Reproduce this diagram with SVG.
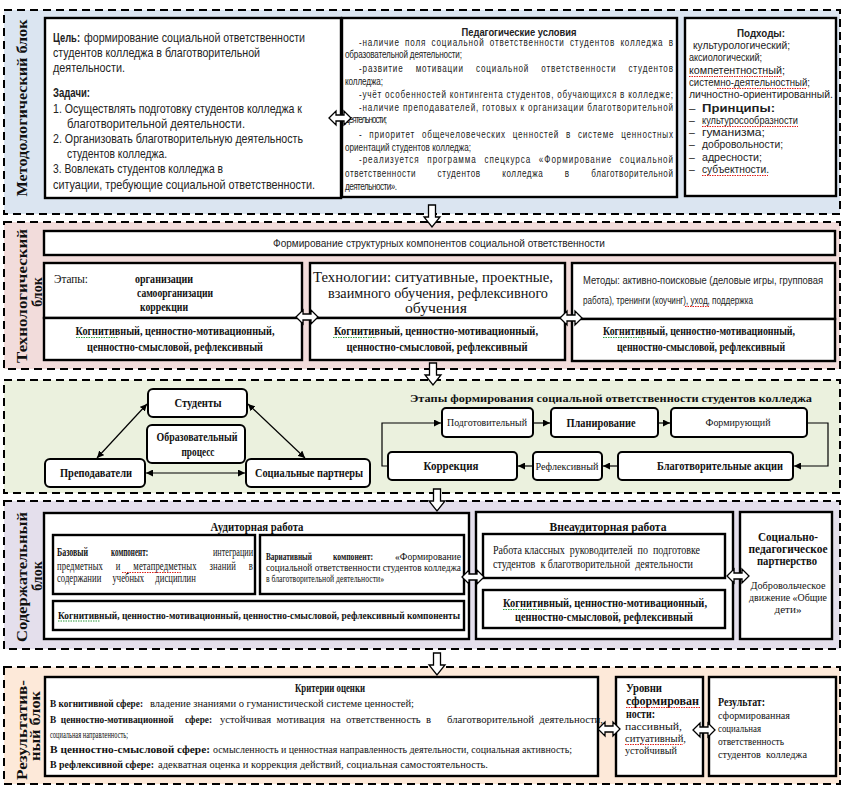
<svg xmlns="http://www.w3.org/2000/svg" width="847" height="797" viewBox="0 0 847 797">
<defs>
<style>
.blk{stroke:#000;stroke-width:2;stroke-dasharray:8 5}
.box{fill:#fff;stroke:#000;stroke-width:2.4}
.node{fill:#fff;stroke:#000;stroke-width:2}
.sa{font-family:"Liberation Sans",Arial,sans-serif;fill:#222}
.se{font-family:"Liberation Serif","Times New Roman",serif;fill:#111}
.b{font-weight:bold}
.m{text-anchor:middle}
.lbl{font-family:"Liberation Serif","Times New Roman",serif;font-weight:bold;font-size:14px;fill:#111;text-anchor:middle}
.ha{fill:#fff;stroke:#000;stroke-width:1.3}
.ln{fill:none;stroke:#000;stroke-width:1.2}
.sp{fill:none;stroke:#e0201a;stroke-width:1;stroke-dasharray:1.5 1}
.gp{fill:none;stroke:#2a9a3a;stroke-width:1;stroke-dasharray:1.5 1}
</style>
<marker id="ah" viewBox="0 0 10 10" refX="10" refY="5" markerWidth="7" markerHeight="7" markerUnits="userSpaceOnUse" orient="auto-start-reverse"><path d="M0,0 L10,5 L0,10 Z" fill="#000"/></marker>
<path id="darr" d="M-3.5,0 H3.5 V12 H8 L0,22 L-8,12 H-3.5 Z"/>
<path id="harr" d="M0,0 L7,-7 V-3 H15 V-7 L22,0 L15,7 V3 H7 V7 Z"/>
</defs>
<rect width="847" height="797" fill="#fff"/>

<!-- Block 1: methodological -->
<g id="block-methodological">
<rect class="blk" x="4" y="10" width="836" height="204" fill="#dbe5f1"/>
<text class="lbl" transform="translate(27,108) rotate(-90)" textLength="177" lengthAdjust="spacingAndGlyphs">Методологический блок</text>
</g>
<g id="goal-tasks">
<rect class="box" x="45" y="18" width="296" height="180"/>
<g class="sa" font-size="13">
<text class="b" x="53" y="42" textLength="27" lengthAdjust="spacingAndGlyphs">Цель:</text>
<text x="84" y="42" textLength="221" lengthAdjust="spacingAndGlyphs">формирование социальной ответственности</text>
<text x="53" y="57" textLength="207" lengthAdjust="spacingAndGlyphs">студентов колледжа в благотворительной</text>
<text x="53" y="72" textLength="72" lengthAdjust="spacingAndGlyphs">деятельности.</text>
<text class="b" x="53" y="97" textLength="37" lengthAdjust="spacingAndGlyphs">Задачи:</text>
<text x="53" y="113" textLength="249" lengthAdjust="spacingAndGlyphs">1. Осуществлять подготовку студентов колледжа к</text>
<text x="67" y="128" textLength="178" lengthAdjust="spacingAndGlyphs">благотворительной деятельности.</text>
<text x="53" y="143" textLength="250" lengthAdjust="spacingAndGlyphs">2. Организовать благотворительную деятельность</text>
<text x="67" y="158" textLength="100" lengthAdjust="spacingAndGlyphs">студентов колледжа.</text>
<text x="53" y="173" textLength="170" lengthAdjust="spacingAndGlyphs">3. Вовлекать студентов колледжа в</text>
<text x="53" y="189" textLength="262" lengthAdjust="spacingAndGlyphs">ситуации, требующие социальной ответственности.</text>
</g>
</g>
<g id="ped-conditions">
<rect class="box" x="342" y="18" width="335" height="179"/>
<g class="sa" font-size="10.8">
<text class="b m" x="519" y="36" font-size="11" textLength="115" lengthAdjust="spacingAndGlyphs">Педагогические условия</text>
<text transform="matrix(0.75 0 0 1 359 0)" y="46" textLength="418.7" lengthAdjust="spacing" word-spacing="3">-наличие поля социальной ответственности  студентов колледжа в</text>
<text transform="matrix(0.75 0 0 1 345 0)" y="58" textLength="156" lengthAdjust="spacing">образовательной деятельности;</text>
<text transform="matrix(0.75 0 0 1 359 0)" y="72" textLength="418.7" lengthAdjust="spacing" word-spacing="12">-развитие мотивации социальной ответственности студентов</text>
<text transform="matrix(0.75 0 0 1 345 0)" y="85" textLength="50.7" lengthAdjust="spacing">колледжа;</text>
<text transform="matrix(0.75 0 0 1 359 0)" y="98" textLength="418.7" lengthAdjust="spacing">-учёт особенностей контингента студентов, обучающихся в колледже;</text>
<text transform="matrix(0.75 0 0 1 359 0)" y="111" textLength="418.7" lengthAdjust="spacing">-наличие преподавателей, готовых к организации благотворительной</text>
<text transform="matrix(0.75 0 0 1 345 0)" y="123" textLength="56" lengthAdjust="spacing">деятельности;</text>
<text transform="matrix(0.75 0 0 1 359 0)" y="138" textLength="418.7" lengthAdjust="spacing" word-spacing="5">- приоритет общечеловеческих ценностей в системе ценностных</text>
<text transform="matrix(0.75 0 0 1 345 0)" y="151" textLength="168" lengthAdjust="spacing">ориентаций студентов колледжа;</text>
<text transform="matrix(0.75 0 0 1 359 0)" y="163" textLength="418.7" lengthAdjust="spacing" word-spacing="6">-реализуется программа спецкурса «Формирование социальной</text>
<text transform="matrix(0.75 0 0 1 345 0)" y="177" textLength="437.3" lengthAdjust="spacing" word-spacing="25">ответственности студентов колледжа в благотворительной</text>
<text transform="matrix(0.75 0 0 1 345 0)" y="190" textLength="69.3" lengthAdjust="spacing">деятельности».</text>
</g>
</g>
<g id="approaches">
<rect class="box" x="685" y="18" width="151" height="178"/>
<g class="sa" font-size="10.5">
<text class="b m" x="761" y="37" font-size="11.5" textLength="48" lengthAdjust="spacingAndGlyphs">Подходы:</text>
<text x="693" y="49" textLength="97" lengthAdjust="spacingAndGlyphs">культурологический;</text>
<text x="689" y="61" textLength="73" lengthAdjust="spacingAndGlyphs">аксиологический;</text>
<text x="689" y="74" textLength="96" lengthAdjust="spacingAndGlyphs">компетентностный;</text>
<text x="689" y="86" textLength="121" lengthAdjust="spacingAndGlyphs">системно-деятельностный;</text>
<text x="689" y="98" textLength="144" lengthAdjust="spacingAndGlyphs">личностно-ориентированный.</text>
<text x="689" y="112" font-size="11.5">–</text>
<text class="b" x="702" y="112" font-size="11.5" textLength="73" lengthAdjust="spacingAndGlyphs">Принципы:</text>
<text x="689" y="124">–</text>
<text x="702" y="124" textLength="96" lengthAdjust="spacingAndGlyphs">культуросообразности</text>
<text x="689" y="136">–</text>
<text x="702" y="136" textLength="63" lengthAdjust="spacingAndGlyphs">гуманизма;</text>
<text x="689" y="148">–</text>
<text x="702" y="148" textLength="81" lengthAdjust="spacingAndGlyphs">добровольности;</text>
<text x="689" y="161">–</text>
<text x="702" y="161" textLength="60" lengthAdjust="spacingAndGlyphs">адресности;</text>
<text x="689" y="173">–</text>
<text x="702" y="173" textLength="67" lengthAdjust="spacingAndGlyphs">субъектности.</text>
</g>
</g>

<!-- Block 2: technological -->
<g id="block-technological">
<rect class="blk" x="4" y="222" width="836" height="147" fill="#f2dcdb"/>
<text class="lbl" transform="translate(27,296) rotate(-90)" textLength="134" lengthAdjust="spacingAndGlyphs">Технологический</text>
<text class="lbl" transform="translate(42,292) rotate(-90)">блок</text>
</g>
<g id="tech-header">
<rect class="box" x="44" y="231" width="791" height="24"/>
<text class="sa m" x="439" y="247" font-size="10.5" textLength="332" lengthAdjust="spacingAndGlyphs">Формирование структурных компонентов социальной ответственности</text>
</g>
<g id="tech-stages">
<rect class="box" x="44" y="263" width="258" height="55"/>
<rect class="box" x="44" y="318" width="258" height="42"/>
<text class="se" x="54" y="283" font-size="11.5" textLength="34" lengthAdjust="spacingAndGlyphs">Этапы:</text>
<text class="se b" x="135" y="283" font-size="11.5" textLength="58" lengthAdjust="spacingAndGlyphs">организации</text>
<text class="se b" x="137" y="297" font-size="11.5" textLength="76" lengthAdjust="spacingAndGlyphs">самоорганизации</text>
<text class="se b" x="140" y="311" font-size="11.5" textLength="48" lengthAdjust="spacingAndGlyphs">коррекции</text>
<text class="se b m" x="175" y="335" font-size="11.5" textLength="199" lengthAdjust="spacingAndGlyphs">Когнитивный, ценностно-мотивационный,</text>
<text class="se b m" x="175" y="351" font-size="11.5" textLength="176" lengthAdjust="spacingAndGlyphs">ценностно-смысловой,  рефлексивный</text>
</g>
<g id="tech-technologies">
<rect class="box" x="310" y="263" width="255" height="55"/>
<rect class="box" x="310" y="318" width="255" height="42"/>
<text class="se m" x="433" y="282" font-size="15.5" textLength="240" lengthAdjust="spacingAndGlyphs">Технологии: ситуативные, проектные,</text>
<text class="se m" x="438" y="298" font-size="15.5" textLength="220" lengthAdjust="spacingAndGlyphs">взаимного обучения, рефлексивного</text>
<text class="se m" x="436" y="313" font-size="15.5" textLength="62" lengthAdjust="spacingAndGlyphs">обучения</text>
<text class="se b m" x="436" y="335" font-size="11.5" textLength="204" lengthAdjust="spacingAndGlyphs">Когнитивный, ценностно-мотивационный,</text>
<text class="se b m" x="437" y="351" font-size="11.5" textLength="181" lengthAdjust="spacingAndGlyphs">ценностно-смысловой,  рефлексивный</text>
</g>
<g id="tech-methods">
<rect class="box" x="572" y="263" width="263" height="56"/>
<rect class="box" x="572" y="319" width="263" height="42"/>
<text class="sa" x="583" y="284" font-size="10" textLength="240" lengthAdjust="spacingAndGlyphs">Методы: активно-поисковые (деловые игры, групповая</text>
<text class="sa" x="583" y="304" font-size="10" textLength="170" lengthAdjust="spacingAndGlyphs">работа), тренинги  (коучинг), уход, поддержка</text>
<text class="se b m" x="699" y="335" font-size="11.5" textLength="192" lengthAdjust="spacingAndGlyphs">Когнитивный, ценностно-мотивационный,</text>
<text class="se b m" x="701" y="351" font-size="11.5" textLength="168" lengthAdjust="spacingAndGlyphs">ценностно-смысловой,  рефлексивный</text>
</g>

<!-- Block 3: green -->
<g id="block-process">
<rect class="blk" x="4" y="380" width="836" height="113" fill="#ebf1de"/>
<text class="se b" x="410" y="402" font-size="11" textLength="402" lengthAdjust="spacingAndGlyphs">Этапы  формирования социальной ответственности студентов колледжа</text>
</g>
<g id="students"><rect class="node" x="148" y="389" width="99" height="28" rx="5"/><text class="se b m" x="198" y="407" font-size="12.5" textLength="47" lengthAdjust="spacingAndGlyphs">Студенты</text></g>
<g id="edu-process"><rect class="node" x="147" y="425" width="98" height="38" rx="5"/><text class="se b m" x="197" y="441" font-size="12" textLength="81" lengthAdjust="spacingAndGlyphs">Образовательный</text><text class="se b m" x="198" y="456" font-size="12" textLength="33" lengthAdjust="spacingAndGlyphs">процесс</text></g>
<g id="teachers"><rect class="node" x="45" y="459" width="100" height="28" rx="5"/><text class="se b m" x="96" y="477" font-size="11.5" textLength="72" lengthAdjust="spacingAndGlyphs">Преподаватели</text></g>
<g id="partners"><rect class="node" x="246" y="459" width="124" height="28" rx="5"/><text class="se b m" x="309" y="477" font-size="12.5" textLength="108" lengthAdjust="spacingAndGlyphs">Социальные партнеры</text></g>
<g id="st-prep"><rect class="node" x="442" y="408" width="91" height="29" rx="4"/><text class="se m" x="487" y="426" font-size="10.5" textLength="80" lengthAdjust="spacingAndGlyphs">Подготовительный</text></g>
<g id="st-plan"><rect class="node" x="551" y="408" width="107" height="29" rx="4"/><text class="se b m" x="601" y="427" font-size="12" textLength="69" lengthAdjust="spacingAndGlyphs">Планирование</text></g>
<g id="st-form"><rect class="node" x="671" y="408" width="136" height="29" rx="4"/><text class="se m" x="738" y="426" font-size="10.5" textLength="65" lengthAdjust="spacingAndGlyphs">Формирующий</text></g>
<g id="st-corr"><rect class="node" x="388" y="452" width="129" height="28" rx="4"/><text class="se b m" x="451" y="470" font-size="11.5" textLength="55" lengthAdjust="spacingAndGlyphs">Коррекция</text></g>
<g id="st-refl"><rect class="node" x="533" y="452" width="69" height="28" rx="4"/><text class="se m" x="567" y="470" font-size="10.5" textLength="63" lengthAdjust="spacingAndGlyphs">Рефлексивный</text></g>
<g id="st-charity"><rect class="node" x="618" y="452" width="175" height="28" rx="4"/><text class="se b m" x="720" y="470" font-size="11.5" textLength="126" lengthAdjust="spacingAndGlyphs">Благотворительные акции</text></g>

<!-- Block 4: content -->
<g id="block-content">
<rect class="blk" x="4" y="501" width="836" height="148" fill="#e4dfec"/>
<text class="lbl" transform="translate(27,577) rotate(-90)" textLength="130" lengthAdjust="spacingAndGlyphs">Содержательный</text>
<text class="lbl" transform="translate(42,576) rotate(-90)">блок</text>
</g>
<g id="classroom">
<rect class="box" x="44" y="513" width="425" height="126"/>
<text class="se b m" x="257" y="531" font-size="12.5" textLength="93" lengthAdjust="spacingAndGlyphs">Аудиторная работа</text>
<rect class="box" x="53" y="535" width="202" height="59"/>
<text class="se b" x="57" y="556" font-size="11.5" textLength="31" lengthAdjust="spacingAndGlyphs">Базовый</text>
<text class="se b" x="111" y="556" font-size="11.5" textLength="37" lengthAdjust="spacingAndGlyphs">компонент:</text>
<text class="se" x="213" y="556" font-size="11.5" textLength="40" lengthAdjust="spacingAndGlyphs">интеграции</text>
<text class="se" transform="matrix(0.75 0 0 1 57 0)" y="570" font-size="11.5" textLength="261" lengthAdjust="spacing" word-spacing="14">предметных и метапредметных знаний в</text>
<text class="se" transform="matrix(0.75 0 0 1 57 0)" y="582" font-size="11.5" textLength="185" lengthAdjust="spacing" word-spacing="12">содержании учебных дисциплин</text>
<rect class="box" x="260" y="535" width="204" height="59"/>
<text class="se b" x="266" y="560" font-size="11" textLength="46" lengthAdjust="spacingAndGlyphs">Вариативный</text>
<text class="se b" x="333" y="560" font-size="11" textLength="40" lengthAdjust="spacingAndGlyphs">компонент:</text>
<text class="se" x="395" y="560" font-size="11" textLength="66" lengthAdjust="spacingAndGlyphs">«Формирование</text>
<text class="se" x="266" y="571" font-size="11" textLength="195" lengthAdjust="spacingAndGlyphs">социальной ответственности студентов колледжа</text>
<text class="se" x="266" y="582" font-size="11" textLength="118" lengthAdjust="spacingAndGlyphs">в благотворительной деятельности»</text>
<rect class="box" x="53" y="601" width="411" height="29"/>
<text class="se b" x="58" y="619" font-size="11" textLength="402" lengthAdjust="spacingAndGlyphs">Когнитивный, ценностно-мотивационный, ценностно-смысловой, рефлексивный компоненты</text>
</g>
<g id="extracurricular">
<rect class="box" x="476" y="512" width="257" height="127"/>
<text class="se b m" x="608" y="531" font-size="12.5" textLength="117" lengthAdjust="spacingAndGlyphs">Внеаудиторная работа</text>
<rect class="box" x="483" y="534" width="242" height="44"/>
<text class="se" x="493" y="554" font-size="11.5" textLength="207" lengthAdjust="spacingAndGlyphs" xml:space="preserve">Работа классных  руководителей  по  подготовке</text>
<text class="se" x="493" y="568" font-size="11.5" textLength="200" lengthAdjust="spacingAndGlyphs" xml:space="preserve">студентов  к благотворительной  деятельности</text>
<rect class="box" x="483" y="590" width="242" height="38"/>
<text class="se b m" x="605" y="607" font-size="12" textLength="204" lengthAdjust="spacingAndGlyphs">Когнитивный, ценностно-мотивационный,</text>
<text class="se b m" x="604" y="621" font-size="12" textLength="178" lengthAdjust="spacingAndGlyphs">ценностно-смысловой,  рефлексивный</text>
</g>
<g id="partnership">
<rect class="box" x="740" y="512" width="92" height="127"/>
<text class="se b m" x="788" y="541" font-size="11.5" textLength="60" lengthAdjust="spacingAndGlyphs">Социально-</text>
<text class="se b m" x="788" y="553" font-size="11.5" textLength="79" lengthAdjust="spacingAndGlyphs">педагогическое</text>
<text class="se b m" x="787" y="565" font-size="11.5" textLength="60" lengthAdjust="spacingAndGlyphs">партнерство</text>
<text class="se m" x="788" y="589" font-size="11" textLength="75" lengthAdjust="spacingAndGlyphs">Добровольческое</text>
<text class="se m" x="788" y="601" font-size="11" textLength="78" lengthAdjust="spacingAndGlyphs">движение «Общие</text>
<text class="se m" x="788" y="613" font-size="11" textLength="27" lengthAdjust="spacingAndGlyphs">дети»</text>
</g>

<!-- Block 5: results -->
<g id="block-results">
<rect class="blk" x="4" y="667" width="836" height="117" fill="#fde9d9"/>
<text class="lbl" transform="translate(27,730) rotate(-90)" font-size="13" textLength="100" lengthAdjust="spacingAndGlyphs">Результатив-</text>
<text class="lbl" transform="translate(40,726) rotate(-90)" font-size="13" textLength="70" lengthAdjust="spacingAndGlyphs">ный блок</text>
</g>
<g id="criteria">
<rect class="box" x="45" y="677" width="553" height="99"/>
<text class="se b m" x="330" y="692" font-size="11.5" textLength="70" lengthAdjust="spacingAndGlyphs">Критерии оценки</text>
<text class="se b" x="50" y="707" font-size="11" textLength="93" lengthAdjust="spacingAndGlyphs">В когнитивной сфере:</text>
<text class="se" x="150" y="707" font-size="11" textLength="264" lengthAdjust="spacingAndGlyphs">владение знаниями о гуманистической системе ценностей;</text>
<text class="se b" x="50" y="723" font-size="11" textLength="162" lengthAdjust="spacingAndGlyphs" xml:space="preserve">В  ценностно-мотивационной     сфере:</text>
<text class="se" x="220" y="723" font-size="11" textLength="383" lengthAdjust="spacingAndGlyphs" xml:space="preserve">устойчивая  мотивация  на  ответственность  в      благотворительной  деятельности,</text>
<text class="se" x="50" y="738" font-size="10" textLength="78" lengthAdjust="spacingAndGlyphs">социальная  направленность;</text>
<text class="se b" x="50" y="753" font-size="11" textLength="160" lengthAdjust="spacingAndGlyphs">В ценностно-смысловой сфере:</text>
<text class="se" x="213" y="753" font-size="11" textLength="359" lengthAdjust="spacingAndGlyphs">осмысленность и ценностная направленность деятельности, социальная активность;</text>
<text class="se b" x="50" y="768" font-size="11" textLength="104" lengthAdjust="spacingAndGlyphs">В рефлексивной сфере:</text>
<text class="se" x="158" y="768" font-size="11" textLength="330" lengthAdjust="spacingAndGlyphs">адекватная оценка и коррекция действий, социальная самостоятельность.</text>
</g>
<g id="levels">
<rect class="box" x="616" y="677" width="87" height="99"/>
<text class="se b" x="626" y="692" font-size="11.5" textLength="36" lengthAdjust="spacingAndGlyphs">Уровни</text>
<text class="se b" x="626" y="705" font-size="11.5" textLength="73" lengthAdjust="spacingAndGlyphs">сформирован</text>
<text class="se b" x="626" y="718" font-size="11.5" textLength="29" lengthAdjust="spacingAndGlyphs">ности:</text>
<text class="se" x="625" y="730" font-size="11" textLength="57" lengthAdjust="spacingAndGlyphs">пассивный,</text>
<text class="se" x="625" y="742" font-size="11" textLength="61" lengthAdjust="spacingAndGlyphs">ситуативный,</text>
<text class="se" x="625" y="754" font-size="11" textLength="52" lengthAdjust="spacingAndGlyphs">устойчивый</text>
</g>
<g id="result">
<rect class="box" x="709" y="677" width="127" height="99"/>
<text class="se b" x="718" y="706" font-size="12" textLength="47" lengthAdjust="spacingAndGlyphs">Результат:</text>
<text class="se" x="718" y="719" font-size="11" textLength="72" lengthAdjust="spacingAndGlyphs">сформированная</text>
<text class="se" x="718" y="732" font-size="11" textLength="43" lengthAdjust="spacingAndGlyphs">социальная</text>
<text class="se" x="718" y="745" font-size="11" textLength="66" lengthAdjust="spacingAndGlyphs">ответственность</text>
<text class="se" x="718" y="758" font-size="11" textLength="89" lengthAdjust="spacingAndGlyphs" xml:space="preserve">студентов  колледжа</text>
</g>

<!-- spell-check marks -->
<g id="marks">
<path class="sp" d="M689,76.5 H782 M717,88.5 H807 M702,126.5 H798 M702,175.5 H768 M685,306.5 H709 M122,572.5 H182 M626,707.5 H700 M625,744.5 H683"/>
<path class="gp" d="M76,337.5 H118 M333,337.5 H376 M603,337.5 H645 M58,621 H100 M503,609.5 H546"/>
</g>

<!-- connectors -->
<g id="connectors">
<use href="#darr" class="ha" x="432" y="205"/>
<use href="#darr" class="ha" x="433" y="363"/>
<use href="#darr" class="ha" x="437" y="489"/>
<use href="#darr" class="ha" x="437" y="653"/>
<use href="#harr" class="ha" x="329" y="118"/>
<use href="#harr" class="ha" x="296" y="317"/>
<use href="#harr" class="ha" x="560" y="318"/>
<use href="#harr" class="ha" x="462" y="577"/>
<use href="#harr" class="ha" x="727" y="576"/>
<use href="#harr" class="ha" x="598" y="729"/>
<use href="#harr" class="ha" x="693" y="730"/>
<path class="ln" d="M147,404 L97,458" marker-start="url(#ah)" marker-end="url(#ah)"/>
<path class="ln" d="M248,404 L305,458" marker-start="url(#ah)" marker-end="url(#ah)"/>
<path class="ln" d="M146,473 L245,473" marker-start="url(#ah)" marker-end="url(#ah)"/>
<path class="ln" d="M533,423 L550,423" marker-end="url(#ah)"/>
<path class="ln" d="M658,423 L670,423" marker-end="url(#ah)"/>
<path class="ln" d="M807,423 L828,423 L828,466 L794,466" marker-end="url(#ah)"/>
<path class="ln" d="M618,466 L603,466" marker-end="url(#ah)"/>
<path class="ln" d="M533,466 L518,466" marker-end="url(#ah)"/>
<path class="ln" d="M388,466 L382,466 L382,423 L441,423" marker-end="url(#ah)"/>
</g>
</svg>
